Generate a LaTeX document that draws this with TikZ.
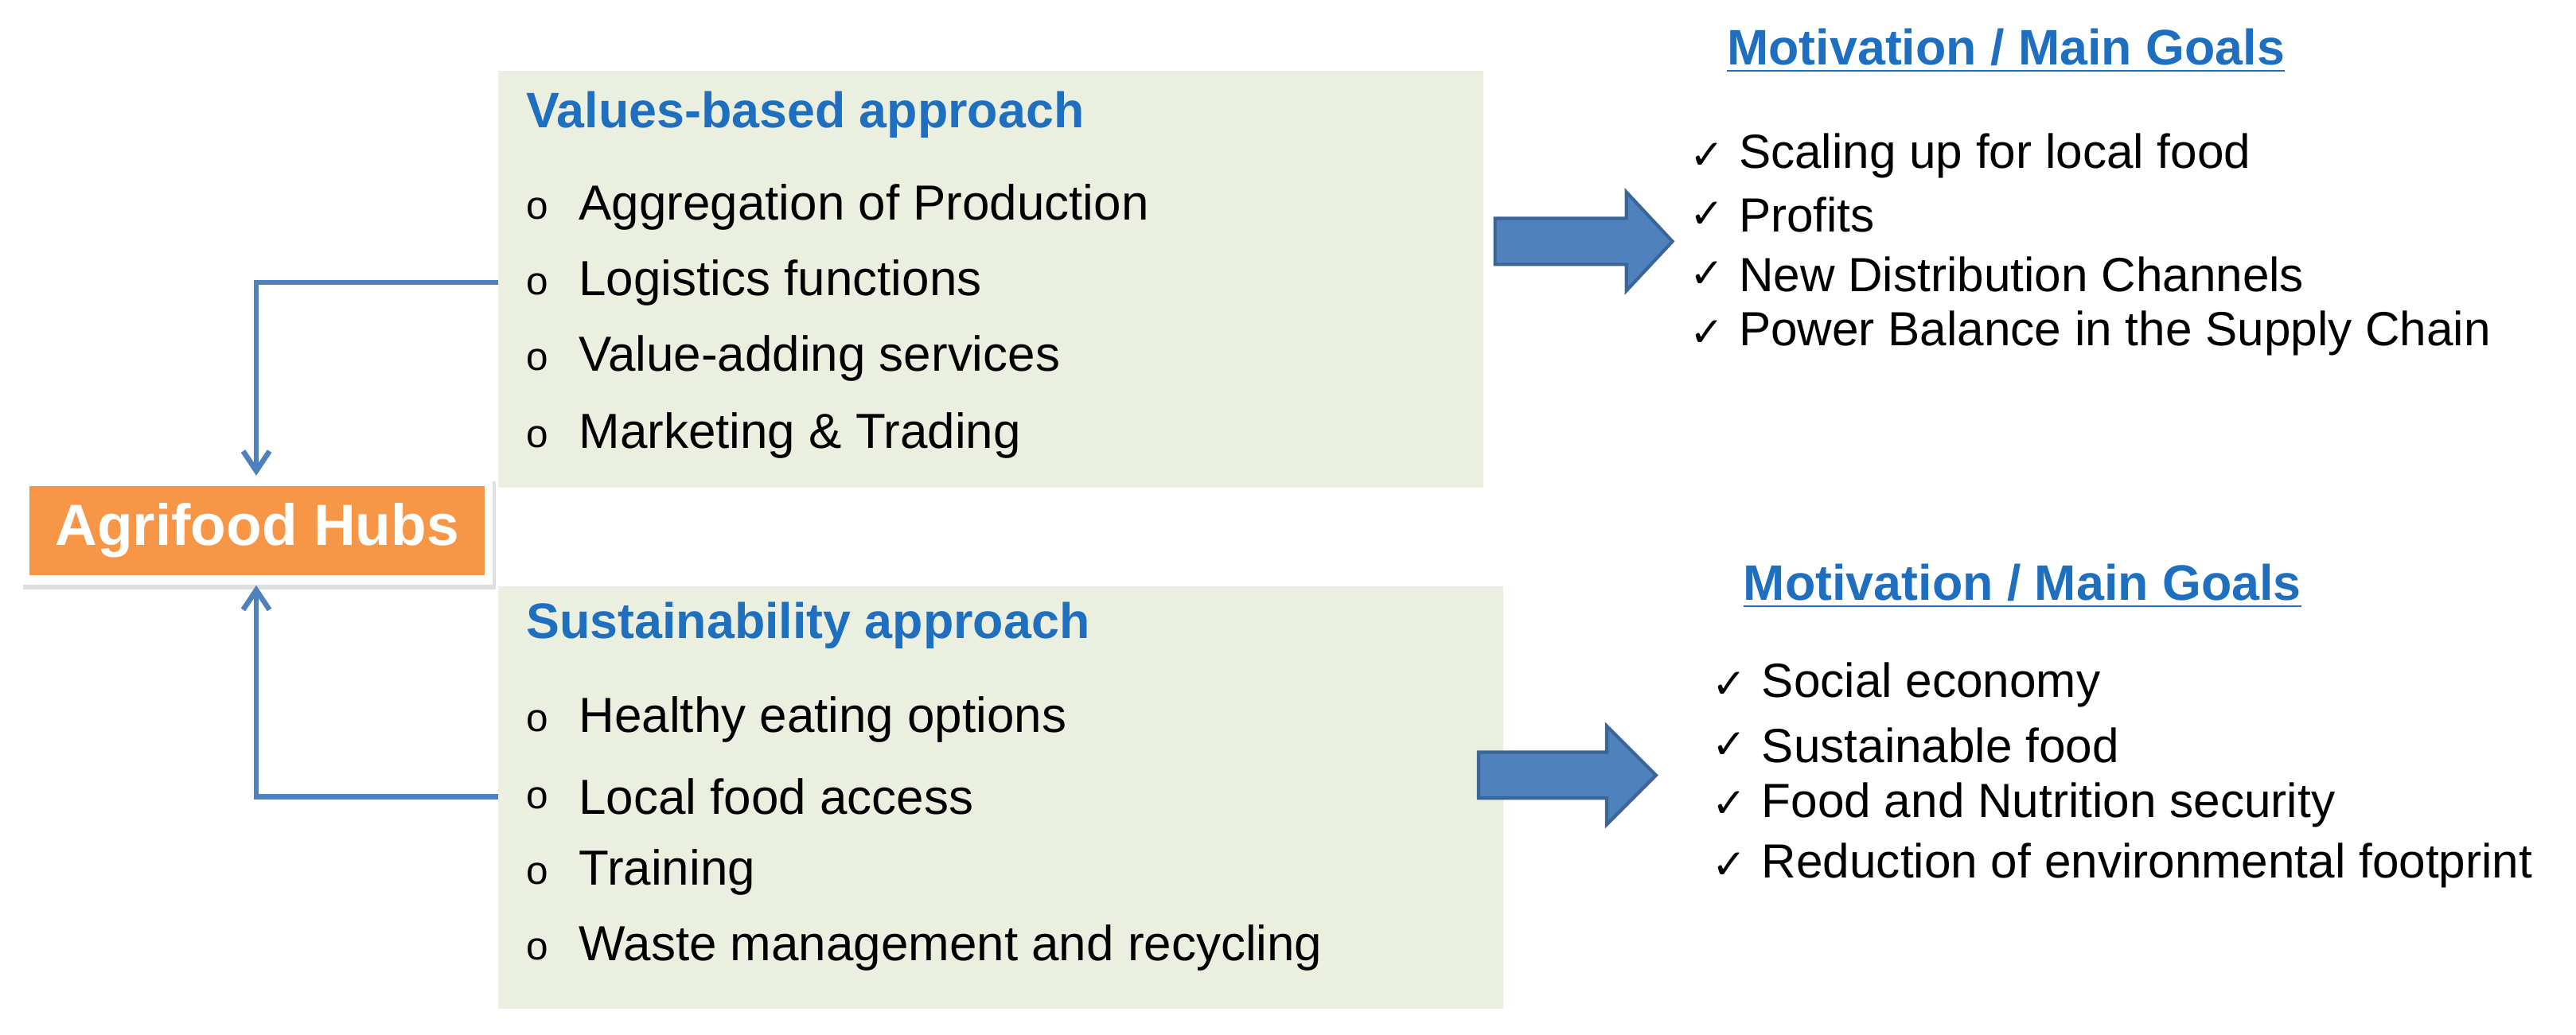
\documentclass[tikz,border=0pt]{standalone}
\usepackage{fontspec}
\setmainfont{Liberation Sans}
\newfontfamily\dv{DejaVu Sans}
\usetikzlibrary{shadows,arrows.meta}
\definecolor{bgreen}{HTML}{EBEFDF}
\definecolor{tblue}{HTML}{1F6FC0}
\definecolor{lblue}{HTML}{4F81BD}
\definecolor{dblue}{HTML}{3A6597}
\definecolor{orng}{HTML}{F79646}
\begin{document}
\begin{tikzpicture}[x=0.5pt,y=-0.5pt,
  item/.style={anchor=west,inner sep=0,font=\fontsize{15}{17}\selectfont},
  bul/.style={anchor=west,inner sep=0,font=\fontsize{12}{14}\selectfont},
  ttl/.style={anchor=west,inner sep=0,font=\bfseries\fontsize{15.2}{17}\selectfont,text=tblue},
  goal/.style={inner sep=0,font=\bfseries\fontsize{15.2}{17}\selectfont,text=tblue},
  chk/.style={anchor=west,inner sep=0,font=\fontsize{14.6}{17}\selectfont},
  conn/.style={draw=lblue,line width=1.6pt,-{Straight Barb[length=6pt,width=8pt]}},
  barrow/.style={fill=lblue,draw=dblue,line width=1pt}]
\useasboundingbox (0,0) rectangle (1568,630);
\fill[bgreen] (303,43) rectangle (903,297);
\fill[bgreen] (303,357) rectangle (915,614);
\node[ttl] (t1) at (320,70) {Values-based approach};
\foreach \y/\t [count=\i] in {126/Aggregation of Production,172/Logistics functions,218/Value-adding services,265/Marketing \& Trading}{
  \node[bul] at (320,\y+1) {o}; \node[item] (a\i) at (352,\y) {\t};}
\node[ttl] (t2) at (320,381) {Sustainability approach};
\foreach \y/\t [count=\i] in {438/Healthy eating options,485/Local food access,531/Training,577/Waste management and recycling}{
  \node[bul] at (320,\y+1) {o}; \node[item] (b\i) at (352,\y) {\t};}
% hub
\node[fill=white,minimum width=144pt,minimum height=33pt,drop shadow={opacity=0.25,shadow xshift=1pt,shadow yshift=-1.5pt}] (hubf) at (156,323) {};
\node[fill=orng,text=white,font=\bfseries\fontsize{17.7}{20}\selectfont,minimum width=138.5pt,minimum height=27pt] (hub) at (156.5,323) {Agrifood Hubs};
\coordinate (c1) at (303,172); \coordinate (c2) at (303,485);
\draw[conn] (c1) -| (hubf.north);
\draw[conn] (c2) -| (hubf.south);
% block arrows
\draw[barrow] (910,133) -- (990,133) -- (990,117) -- (1018,147) -- (990,177) -- (990,161) -- (910,161) -- cycle;
\draw[barrow] (900,458) -- (978,458) -- (978,442) -- (1008,472) -- (978,502) -- (978,486) -- (900,486) -- cycle;
\node[goal] (g1) at (1221,31) {\underline{Motivation / Main Goals}};
\node[goal] (g2) at (1231,357) {\underline{Motivation / Main Goals}};
\foreach \y/\t in {95/Scaling up for local food,131/Profits,167/New Distribution Channels,203/Power Balance in the Supply Chain}{
  \node[chk] at (1028,\y) {{\dv\fontsize{12.5}{14}\selectfont ✓}}; \node[chk] at (1058,\y) {\t};}
\foreach \y/\t in {417/Social economy,454/Sustainable food,490/Food and Nutrition security,527/Reduction of environmental footprint}{
  \node[chk] at (1042,\y) {{\dv\fontsize{12.5}{14}\selectfont ✓}}; \node[chk] at (1072,\y) {\t};}
\end{tikzpicture}
\end{document}
